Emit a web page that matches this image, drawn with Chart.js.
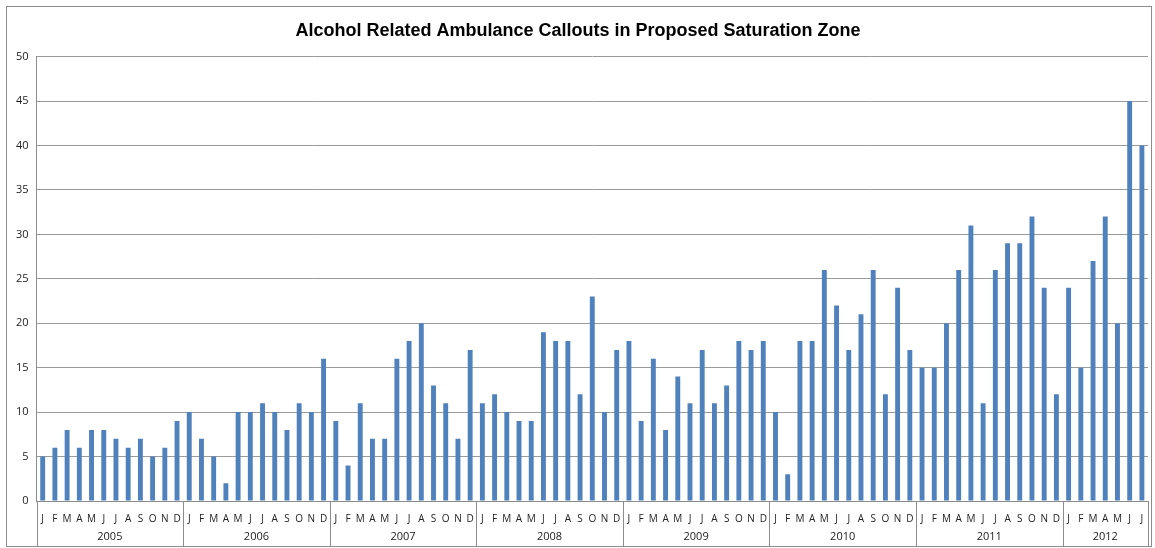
<!DOCTYPE html>
<html>
<head>
<meta charset="utf-8">
<script src="https://cdn.jsdelivr.net/npm/chart.js@4"></script>
<style>
  body { margin: 0; background: #fff; }
  #box {
    position: absolute; left: 6px; top: 6px;
    width: 1144px; height: 539px;
    border: 1px solid #8c8c8c; background: #fff;
  }
</style>
</head>
<body>
<div id="box"><canvas id="myChart"></canvas></div>
<script>
// month letters per year, years with how many months they show
const monthLetters = ['J', 'F', 'M', 'A', 'M', 'J', 'J', 'A', 'S', 'O', 'N', 'D'];
const years = ['2005', '2006', '2007', '2008', '2009', '2010', '2011', '2012'];
const monthsPerYear = [12, 12, 12, 12, 12, 12, 12, 7];

// callouts per month
const v2005 = [5, 6, 8, 6, 8, 8, 7, 6, 7, 5, 6, 9];
const v2006 = [10, 7, 5, 2, 10, 10, 11, 10, 8, 11, 10, 16];
const v2007 = [9, 4, 11, 7, 7, 16, 18, 20, 13, 11, 7, 17];
const v2008 = [11, 12, 10, 9, 9, 19, 18, 18, 12, 23, 10, 17];
const v2009 = [18, 9, 16, 8, 14, 11, 17, 11, 13, 18, 17, 18];
const v2010 = [10, 3, 18, 18, 26, 22, 17, 21, 26, 12, 24, 17];
const v2011 = [15, 15, 20, 26, 31, 11, 26, 29, 29, 32, 24, 12];
const v2012 = [24, 15, 27, 32, 20, 45, 40];

const yTicks = [0, 5, 10, 15, 20, 25, 30, 35, 40, 45, 50];

document.addEventListener('DOMContentLoaded', function() {
    const values = [].concat(v2005, v2006, v2007, v2008, v2009, v2010, v2011, v2012);
    const labels = [];
    monthsPerYear.forEach(n => {
        for (let i = 0; i < n; i++) labels.push(monthLetters[i]);
    });

    const font = "'Open Sans', 'Liberation Sans', sans-serif";
    const lineCol = '#8c8c8c';

    // second row of the category axis: years and the separators between them
    const yearRows = {
        id: 'yearRows',
        afterDraw(chart) {
            const x = chart.scales.x;
            const ctx = chart.ctx;
            const half = (x.getPixelForValue(1) - x.getPixelForValue(0)) / 2;
            const top = chart.chartArea.bottom;
            const bottom = chart.height;
            ctx.save();
            ctx.strokeStyle = lineCol;
            ctx.lineWidth = 1;
            ctx.fillStyle = '#222';
            ctx.font = '11px ' + font;
            ctx.textAlign = 'center';
            ctx.textBaseline = 'middle';
            let start = 0;
            const edge = i => Math.round(x.getPixelForValue(i) - half) + 0.5;
            ctx.beginPath();
            ctx.moveTo(edge(0), top);
            ctx.lineTo(edge(0), bottom);
            monthsPerYear.forEach((n, k) => {
                const end = start + n;
                const px = edge(end);
                ctx.moveTo(px, top);
                ctx.lineTo(px, bottom);
                const mid = (x.getPixelForValue(start) + x.getPixelForValue(end - 1)) / 2;
                ctx.fillText(years[k], mid, bottom - 9);
                start = end;
            });
            ctx.stroke();
            ctx.restore();
        }
    };

    new Chart(document.getElementById('myChart'), {
        type: 'bar',
        data: {
            labels: labels,
            datasets: [{
                data: values,
                backgroundColor: '#4f81bd',
                borderWidth: 0,
                categoryPercentage: 0.8,
                barPercentage: 0.5
            }]
        },
        plugins: [yearRows],
        options: {
            responsive: true,
            maintainAspectRatio: false,
            animation: false,
            layout: { padding: { left: 1, right: 3, top: 0, bottom: 17 } },
            plugins: {
                legend: { display: false },
                tooltip: { enabled: false },
                title: {
                    display: true,
                    text: 'Alcohol Related Ambulance Callouts in Proposed Saturation Zone',
                    color: '#000',
                    font: { family: "'Liberation Sans', sans-serif", size: 18, weight: 'bold' },
                    padding: { top: 13, bottom: 15 }
                }
            },
            scales: {
                y: {
                    min: 0,
                    max: 50,
                    afterBuildTicks: axis => { axis.ticks = yTicks.map(v => ({ value: v })); },
                    ticks: { color: '#222', font: { family: font, size: 11 }, padding: 8 },
                    grid: { color: '#9a9a9a', tickLength: 0 },
                    border: { display: true, color: lineCol }
                },
                x: {
                    offset: true,
                    ticks: {
                        autoSkip: false, maxRotation: 0, minRotation: 0,
                        color: '#222', font: { family: font, size: 10 }, padding: 4
                    },
                    grid: { display: false },
                    border: { display: true, color: lineCol }
                }
            }
        }
    });
});
</script>
</body>
</html>
